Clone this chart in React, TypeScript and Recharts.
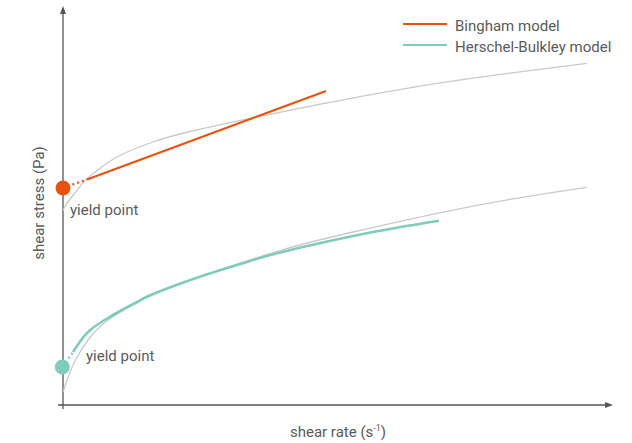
import { ComposedChart, Line, XAxis, YAxis, ReferenceDot, ReferenceLine, Legend } from 'recharts'

// shear rate (x) / shear stress (y)
const upperCurveRate = [0, 2, 8.7, 15, 23.7, 40, 58.7, 90, 125, 187, 260, 343.7, 430, 523.7]
const upperCurveStress = [195, 199.5, 209, 217, 227, 240, 251.5, 264, 274, 287.7, 302.3, 317.7, 330.6, 342.7]

const lowerCurveRate = [0, 2, 5, 12, 25, 40, 59, 92, 142, 217, 290, 374, 450, 524]
const lowerCurveStress = [14, 20, 28.5, 45, 66, 82, 95, 113, 131, 155.5, 174, 192.7, 207.2, 218.7]

const binghamDottedRate = [0, 24]
const binghamDottedStress = [218, 226.5]
const binghamRate = [24, 263]
const binghamStress = [226.5, 315]

const hbDottedRate = [0, 10]
const hbDottedStress = [39, 54]
const hbRate = [10, 16, 25, 40, 59, 75, 92, 142, 185, 217, 300, 376]
const hbStress = [54, 63, 74, 85, 96, 104.5, 112.7, 131, 144.3, 153.5, 172, 185.3]

const binghamYield = 218
const hbYield = 39

const ORANGE = '#e8520f'
const TEAL = '#7fcbbc'
const GREY = '#c9c9c9'
const AXIS = '#555555'
const TEXT = '#5a5a5a'
const FONT = 'Roboto, "Noto Sans", sans-serif'

const toRows = (xs: number[], ys: number[]) => xs.map((x, i) => ({ x, s: ys[i] }))

const legendItems = [
    { name: 'Bingham model', color: ORANGE },
    { name: 'Herschel-Bulkley model', color: TEAL },
]

function LegendBox() {
    return (
        <div style={{ fontFamily: FONT, fontSize: 15, color: TEXT }}>
            {legendItems.map(item => (
                <div key={item.name} style={{ display: 'flex', height: 21, lineHeight: '21px', whiteSpace: 'nowrap' }}>
                    <svg width={44} height={21} style={{ marginRight: 8 }}>
                        <line x1={0} x2={44} y1={8} y2={8} stroke={item.color} strokeWidth={2} />
                    </svg>
                    <span>{item.name}</span>
                </div>
            ))}
        </div>
    )
}

const arrowRight = (p: any) => (
    <polygon points={`${p.cx + 1},${p.cy} ${p.cx - 7},${p.cy - 3} ${p.cx - 7},${p.cy + 3}`} fill={AXIS} />
)
const arrowUp = (p: any) => (
    <polygon points={`${p.cx},${p.cy - 1} ${p.cx - 3},${p.cy + 7} ${p.cx + 3},${p.cy + 7}`} fill={AXIS} />
)

export default function App() {
    return (
        <div style={{ position: 'absolute', left: 0, top: 0 }}>
            <ComposedChart width={632} height={443} margin={{ top: 7, right: 20, bottom: 38, left: 63 }}>
                <XAxis dataKey="x" type="number" domain={[0, 549]} hide allowDataOverflow />
                <YAxis type="number" domain={[1, 399]} hide allowDataOverflow />

                {/* axes */}
                <ReferenceLine segment={[{ x: -5, y: 1 }, { x: 545, y: 1 }]} stroke={AXIS} strokeWidth={1.3} ifOverflow="visible" />
                <ReferenceLine segment={[{ x: 0, y: -3 }, { x: 0, y: 395 }]} stroke={AXIS} strokeWidth={1.3} ifOverflow="visible" />
                <ReferenceDot x={549} y={1} r={1} shape={arrowRight} ifOverflow="visible" />
                <ReferenceDot x={0} y={399} r={1} shape={arrowUp} ifOverflow="visible" />

                <Line data={toRows(upperCurveRate, upperCurveStress)} dataKey="s" type="natural" stroke={GREY} strokeWidth={1.3} dot={false} isAnimationActive={false} legendType="none" />
                <Line data={toRows(lowerCurveRate, lowerCurveStress)} dataKey="s" type="natural" stroke={GREY} strokeWidth={1.3} dot={false} isAnimationActive={false} legendType="none" />

                <Line data={toRows(binghamDottedRate, binghamDottedStress)} dataKey="s" type="linear" stroke={ORANGE} strokeWidth={2.2} strokeDasharray="2 3" dot={false} isAnimationActive={false} legendType="none" />
                <Line data={toRows(binghamRate, binghamStress)} dataKey="s" name="Bingham model" type="linear" stroke={ORANGE} strokeWidth={2.2} dot={false} isAnimationActive={false} />

                <Line data={toRows(hbDottedRate, hbDottedStress)} dataKey="s" type="linear" stroke={TEAL} strokeWidth={2.4} strokeDasharray="2 3" dot={false} isAnimationActive={false} legendType="none" />
                <Line data={toRows(hbRate, hbStress)} dataKey="s" name="Herschel-Bulkley model" type="natural" stroke={TEAL} strokeWidth={2.6} dot={false} isAnimationActive={false} />

                <ReferenceDot x={0} y={binghamYield} r={7.5} fill={ORANGE} stroke="none" ifOverflow="visible" />
                <ReferenceDot x={-0.7} y={hbYield} r={7.5} fill={TEAL} stroke="none" ifOverflow="visible" />

                <Legend layout="vertical" align="center" verticalAlign="middle" content={() => <LegendBox />}
                    wrapperStyle={{ top: 16, left: 403, width: 230 }} />

                <text x={70} y={215} fontFamily={FONT} fontSize={15} fill={TEXT}>yield point</text>
                <text x={86} y={361} fontFamily={FONT} fontSize={15} fill={TEXT}>yield point</text>
                <text x={338} y={437} textAnchor="middle" fontFamily={FONT} fontSize={15} fill={TEXT}>
                    shear rate (s<tspan fontSize={9} dy={-6}>-1</tspan><tspan dy={6}>)</tspan>
                </text>
                <text x={44} y={203} textAnchor="middle" transform="rotate(-90 44 203)" fontFamily={FONT} fontSize={15} fill={TEXT}>
                    shear stress (Pa)
                </text>
            </ComposedChart>
        </div>
    )
}
